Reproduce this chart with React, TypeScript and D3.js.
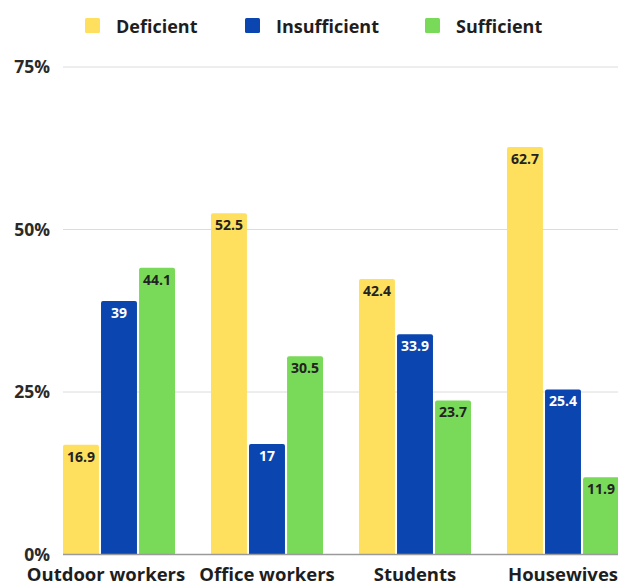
import React, { useRef, useEffect } from 'react';
import * as d3 from 'd3';

const width = 618;
const height = 584;

const categories = ['Outdoor workers', 'Office workers', 'Students', 'Housewives'];
const seriesNames = ['Deficient', 'Insufficient', 'Sufficient'];
const deficient = [16.9, 52.5, 42.4, 62.7];
const insufficient = [39, 17, 33.9, 25.4];
const sufficient = [44.1, 30.5, 23.7, 11.9];
const yTicks = [0, 25, 50, 75];

const colors = ['#FEDF5E', '#0B46B0', '#79D958'];
const labelColors = ['#222', '#fff', '#222'];
const font = '"Open Sans", "DejaVu Sans", sans-serif';

const draw = (el: SVGSVGElement) => {
  const svg = d3.select(el);
  svg.selectAll('*').remove();

  const series = [deficient, insufficient, sufficient];

  const x = d3.scaleBand<string>().domain(categories).range([45, 637]).paddingInner(0.243).paddingOuter(0.1215);
  const xs = d3.scaleBand<string>().domain(seriesNames).range([0, x.bandwidth()]).paddingInner(0.055);
  const y = d3.scaleLinear().domain([0, 75]).range([554.5, 67]);

  // gridlines + y labels
  const grid = svg.append('g');
  grid.selectAll('line')
    .data(yTicks.filter(t => t > 0))
    .join('line')
    .attr('x1', 63).attr('x2', width)
    .attr('y1', d => y(d)).attr('y2', d => y(d))
    .attr('stroke', '#dcdcdc').attr('stroke-width', 1);

  grid.selectAll('text')
    .data(yTicks)
    .join('text')
    .attr('x', 50)
    .attr('y', d => y(d) + 6)
    .attr('text-anchor', 'end')
    .attr('font-family', font).attr('font-weight', 700).attr('font-size', 17.5)
    .attr('fill', '#2a2a2a')
    .text(d => `${d}%`);

  // bars
  const r = 2;
  const groups = svg.append('g').selectAll('g')
    .data(categories)
    .join('g')
    .attr('transform', c => `translate(${x(c)},0)`);

  groups.each(function (c, ci) {
    const g = d3.select(this);
    seriesNames.forEach((s, si) => {
      const v = series[si][ci];
      const bx = xs(s)!;
      const bw = xs.bandwidth();
      const top = y(v);
      const bottom = y(0);
      g.append('path')
        .attr('d', `M${bx},${bottom} V${top + r} Q${bx},${top} ${bx + r},${top} H${bx + bw - r} Q${bx + bw},${top} ${bx + bw},${top + r} V${bottom} Z`)
        .attr('fill', colors[si]);
      g.append('text')
        .attr('x', bx + bw / 2)
        .attr('y', top + 17)
        .attr('text-anchor', 'middle')
        .attr('font-family', font).attr('font-weight', 700).attr('font-size', 14)
        .attr('fill', labelColors[si])
        .text(String(v));
    });
  });

  // zero line
  svg.append('line')
    .attr('x1', 63).attr('x2', width)
    .attr('y1', y(0)).attr('y2', y(0))
    .attr('stroke', '#9a9a9a').attr('stroke-width', 1.5);

  // category labels
  svg.append('g').selectAll('text')
    .data(categories)
    .join('text')
    .attr('x', c => x(c)! + x.bandwidth() / 2 - (c === 'Outdoor workers' ? 13 : 0))
    .attr('y', 581)
    .attr('text-anchor', 'middle')
    .attr('font-family', font).attr('font-weight', 700).attr('font-size', 18.5)
    .attr('fill', '#1e1e1e')
    .text(c => c);

  // legend
  const legendX = [85, 245, 425];
  const legend = svg.append('g').selectAll('g')
    .data(seriesNames)
    .join('g')
    .attr('transform', (d, i) => `translate(${legendX[i]},18)`);
  legend.append('rect')
    .attr('width', 15).attr('height', 15).attr('rx', 1.5)
    .attr('fill', (d, i) => colors[i]);
  legend.append('text')
    .attr('x', 31).attr('y', 7.5)
    .attr('dominant-baseline', 'central')
    .attr('font-family', font).attr('font-weight', 700).attr('font-size', 18)
    .attr('fill', '#1e1e1e')
    .text(d => d);
};

const App = () => {
  const ref = useRef<SVGSVGElement>(null);
  useEffect(() => {
    if (ref.current) draw(ref.current);
  }, []);
  return (
    <svg ref={ref} width={width} height={height}
      style={{ position: 'absolute', left: 0, top: 0, background: '#fff' }} />
  );
};

export default App;
